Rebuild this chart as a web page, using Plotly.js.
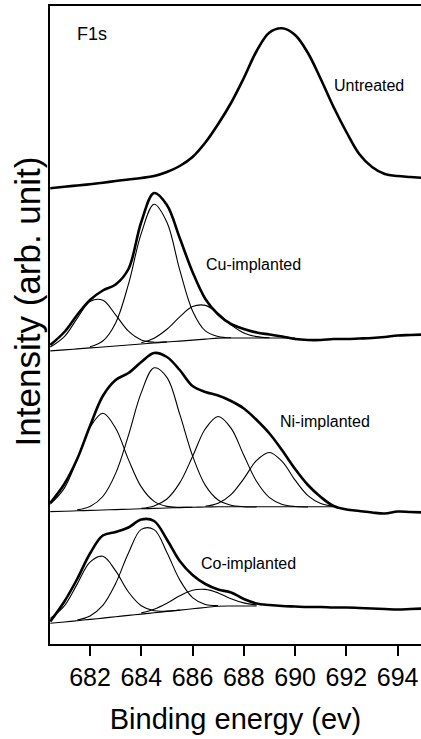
<!DOCTYPE html>
<html>
<head>
<meta charset="utf-8">
<script src="https://cdn.plot.ly/plotly-3.0.1.min.js"></script>
<style>
html, body { margin: 0; padding: 0; background: #ffffff; }
#chart { width: 421px; height: 739px; }
</style>
</head>
<body>
<div id="chart"></div>
<script>
// Binding energy grid (eV)
const energy = [680.45, 681, 681.5, 682, 682.5, 683, 683.5, 684, 684.5, 685, 685.5, 686, 686.5, 687, 687.5,
                688, 688.5, 689, 689.5, 690, 690.5, 691, 691.5, 692, 692.5, 693, 693.5, 694, 694.5, 695];
const xTicks = [682, 684, 686, 688, 690, 692, 694];

// Stacked intensities (arb. unit)
const untreated = [455.8, 457.2, 458.5, 459.8, 461.3, 463, 464.5, 466, 468, 472, 478, 487, 501.5, 520, 541,
                   566, 593, 611.5, 615.7, 609, 591, 565, 537, 512, 490, 477, 470, 468, 467, 466];

const cuData = [299, 312, 329, 344, 353.5, 359.5, 375, 422, 451, 439, 406, 372, 345, 329.5, 320,
                315, 311.5, 309.5, 307.5, 305, 304, 304, 305, 305, 305.5, 306, 307, 308.5, 309, 309.5];
const cuBackgroundStart = 680.45;
const cuBackground = [293.1, 294.1, 295.1, 296.1, 297, 298, 299, 300, 301, 302, 302.9, 303.9, 304.9, 305.9,
                      306, 306, 306, 306, 306, 306];
const cuPeak1Start = 680.45;
const cuPeak1 = [296.9, 307.4, 325.6, 342.4, 343.8, 329.2, 312.8, 304.1, 301.8, 302.1];
const cuPeak2Start = 682;
const cuPeak2 = [297.2, 303, 321.1, 359.8, 410.6, 439.7, 421.7, 374.1, 333.1, 313.1, 307.5, 306.2];
const cuPeak3Start = 684;
const cuPeak3 = [301.3, 305.8, 314.7, 327.1, 337.4, 338.6, 330.6, 319.1, 311.1, 307.4, 306.3];

const niData = [141, 160, 185, 218, 248, 264, 271, 282, 291, 287, 274, 258, 252, 248.5, 243,
                235.5, 224, 210.5, 193.5, 175, 159, 147, 138, 134.5, 133, 131.5, 130.5, 132.5, 132, 131.5];
const niBackgroundStart = 680.45;
const niBackground = [132.35, 132.8, 133.2, 133.6, 134, 134.4, 134.8, 135.2, 135.6, 136, 136.4, 136.8, 137,
                      137.2, 137.2, 137.2, 137.2, 137.2, 137.2, 137.2, 137.2, 137.2, 137.2];
const niPeak1Start = 680.45;
const niPeak1 = [139.8, 155.9, 184.6, 216.5, 230.7, 215.8, 184.4, 157.1, 142.6, 137.6, 136.7, 136.8];
const niPeak2Start = 681.5;
const niPeak2 = [134.1, 137.5, 147.5, 170.6, 208.7, 251.4, 276.2, 266.7, 229.8, 188.2, 158.6, 144, 138.8, 137.3, 137];
const niPeak3Start = 684;
const niPeak3 = [135.7, 138.1, 145, 161.1, 187.4, 215.2, 227.5, 215.9, 188.7, 162.5, 146.4, 139.6, 137.5, 137];
const niPeak4Start = 686.5;
const niPeak4 = [137.8, 140.8, 149.4, 165.4, 183.6, 191.5, 182.3, 163.8, 148.3, 140.4, 137.7];

const coData = [22.5, 42.5, 65, 90.5, 108.5, 112, 116.5, 124.5, 123, 104.5, 83, 69, 60, 54.5, 51.5,
                45, 40.5, 39, 38, 37.5, 37, 37, 36.5, 36.5, 36, 35.5, 35, 34.5, 35, 35.5];
const coBackgroundStart = 680.45;
const coBackground = [20.7, 22, 23.3, 24.6, 25.9, 27.3, 28.6, 29.9, 31.2, 32.6, 33.9, 35.2, 36.5, 37.8, 38, 38, 38];
const coPeak1Start = 680.45;
const coPeak1 = [25.6, 38.2, 59.9, 81.9, 87.7, 73.1, 52, 38.2, 33.2, 32.9, 33.9];
const coPeak2Start = 681.5;
const coPeak2 = [24, 28.1, 38.6, 60.5, 91, 114.6, 114.4, 91.5, 64.1, 46.4, 39.5, 38.4];
const coPeak3Start = 684;
const coPeak3 = [31.1, 34.8, 40.8, 48.2, 53.7, 54.6, 51.1, 45.3, 41.1, 39];

const sampleLabels = ['Untreated', 'Cu-implanted', 'Ni-implanted', 'Co-implanted'];

// ---------- drawing ----------
function along(start, values) {
  const i = energy.indexOf(start);
  return energy.slice(i, i + values.length);
}
function curve(x, y, width) {
  return {
    type: 'scatter', mode: 'lines', x: x, y: y, hoverinfo: 'skip',
    line: { shape: 'spline', smoothing: 1, color: '#000000', width: width }
  };
}
const THIN = 1.1, THICK = 2.6;

const traces = [
  curve(along(cuBackgroundStart, cuBackground), cuBackground, THIN),
  curve(along(cuPeak1Start, cuPeak1), cuPeak1, THIN),
  curve(along(cuPeak2Start, cuPeak2), cuPeak2, THIN),
  curve(along(cuPeak3Start, cuPeak3), cuPeak3, THIN),
  curve(along(niBackgroundStart, niBackground), niBackground, THIN),
  curve(along(niPeak1Start, niPeak1), niPeak1, THIN),
  curve(along(niPeak2Start, niPeak2), niPeak2, THIN),
  curve(along(niPeak3Start, niPeak3), niPeak3, THIN),
  curve(along(niPeak4Start, niPeak4), niPeak4, THIN),
  curve(along(coBackgroundStart, coBackground), coBackground, THIN),
  curve(along(coPeak1Start, coPeak1), coPeak1, THIN),
  curve(along(coPeak2Start, coPeak2), coPeak2, THIN),
  curve(along(coPeak3Start, coPeak3), coPeak3, THIN),
  curve(energy, untreated, THICK),
  curve(energy, cuData, THICK),
  curve(energy, niData, THICK),
  curve(energy, coData, THICK)
];

const FONT = 'Liberation Sans, Arial, Helvetica, sans-serif';
function label(text, x, y, size) {
  return { text: text, x: x, y: y, xref: 'x', yref: 'y', showarrow: false,
           xanchor: 'center', yanchor: 'middle', font: { family: FONT, size: size, color: '#000' } };
}

const layout = {
  width: 421, height: 739,
  margin: { l: 50, r: 0, t: 6, b: 95, pad: 0 },
  paper_bgcolor: '#ffffff', plot_bgcolor: '#ffffff',
  showlegend: false,
  font: { family: FONT, color: '#000000' },
  xaxis: {
    range: [680.44, 694.91], tickvals: xTicks, ticktext: xTicks.map(String),
    ticks: 'outside', ticklen: 10, tickwidth: 2, tickcolor: '#000',
    ticklabelstandoff: 0,
    showline: true, linewidth: 2, linecolor: '#000', mirror: true,
    showgrid: false, zeroline: false,
    tickfont: { family: FONT, size: 25, color: '#000' },
    title: { text: 'Binding energy (ev)', font: { family: FONT, size: 29, color: '#000' }, standoff: 19 }
  },
  yaxis: {
    range: [0, 638], showline: true, linewidth: 2, linecolor: '#000',
    showticklabels: false, ticks: '', showgrid: false, zeroline: false
  },
  annotations: [
    label('F1s', 682.06, 610, 18),
    label(sampleLabels[0], 692.90, 559, 16),
    label(sampleLabels[1], 688.38, 380, 16),
    label(sampleLabels[2], 691.17, 222.5, 16),
    label(sampleLabels[3], 688.20, 80.5, 16),
    { text: 'Intensity (arb. unit)', textangle: -90, xref: 'paper', yref: 'paper',
      x: -0.062, y: 0.537, xanchor: 'center', yanchor: 'middle', showarrow: false,
      font: { family: FONT, size: 35, color: '#000' } }
  ]
};

Plotly.newPlot('chart', traces, layout, { staticPlot: true, displayModeBar: false });
</script>
</body>
</html>
